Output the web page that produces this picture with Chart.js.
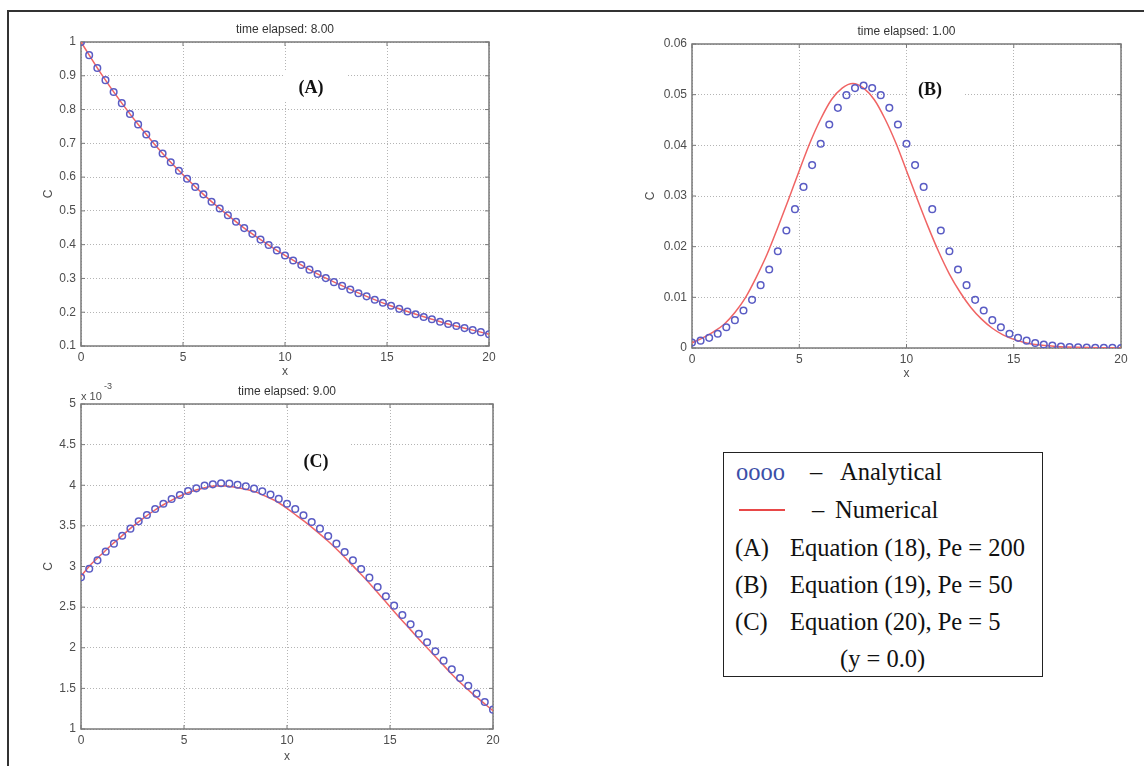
<!DOCTYPE html>
<html>
<head>
<meta charset="utf-8">
<script src="https://cdn.jsdelivr.net/npm/chart.js@4.4.1/dist/chart.umd.min.js"></script>
<style>
  body { margin: 0; background: #fff; width: 1144px; height: 766px; position: relative; overflow: hidden; }
  canvas { position: absolute; }
  .frame { position: absolute; left: 7px; top: 10px; width: 1150px; height: 770px; border-top: 2px solid #333; border-left: 2px solid #333; }
  .legend { position: absolute; left: 723px; top: 452px; width: 318px; height: 223px; border: 1.5px solid #222; }
  .lg { position: absolute; font-family: "Liberation Serif", "Times New Roman", serif; font-size: 24.5px; color: #111; line-height: 28px; white-space: pre; }
</style>
</head>
<body>
<div class="frame"></div>
<canvas id="plotA" width="520" height="385" style="left:0px;top:0px"></canvas>
<canvas id="plotB" width="524" height="390" style="left:620px;top:0px"></canvas>
<canvas id="plotC" width="520" height="396" style="left:0px;top:370px"></canvas>

<div class="legend"></div>
<div class="lg" style="left:736px;top:458px;color:#3c4fa8">oooo</div>
<div class="lg" style="left:810px;top:458px">–</div>
<div class="lg" style="left:840px;top:458px">Analytical</div>
<div style="position:absolute;left:739px;top:509px;width:46px;height:2px;background:#e84848"></div>
<div class="lg" style="left:812px;top:496px">–</div>
<div class="lg" style="left:835px;top:496px">Numerical</div>
<div class="lg" style="left:735px;top:534px">(A)</div>
<div class="lg" style="left:790px;top:534px">Equation (18), Pe = 200</div>
<div class="lg" style="left:735px;top:571px">(B)</div>
<div class="lg" style="left:790px;top:571px">Equation (19), Pe = 50</div>
<div class="lg" style="left:735px;top:608px">(C)</div>
<div class="lg" style="left:790px;top:608px">Equation (20), Pe = 5</div>
<div class="lg" style="left:840px;top:645px">(y = 0.0)</div>

<script>
// x positions of the analytical circles (same in all three panels)
const xAnalytical = [0, 0.4, 0.8, 1.2, 1.6, 2, 2.4, 2.8, 3.2, 3.6, 4, 4.4, 4.8, 5.2, 5.6, 6, 6.4, 6.8, 7.2, 7.6,
  8, 8.4, 8.8, 9.2, 9.6, 10, 10.4, 10.8, 11.2, 11.6, 12, 12.4, 12.8, 13.2, 13.6, 14, 14.4, 14.8, 15.2, 15.6,
  16, 16.4, 16.8, 17.2, 17.6, 18, 18.4, 18.8, 19.2, 19.6, 20];
// x positions of the numerical curves
const xNumA = [0, 1, 2, 3, 4, 5, 6, 7, 8, 9, 10, 11, 12, 13, 14, 15, 16, 17, 18, 19, 20];
const xNum = [0, 0.5, 1, 1.5, 2, 2.5, 3, 3.5, 4, 4.5, 5, 5.5, 6, 6.5, 7, 7.5, 8, 8.5, 9, 9.5,
  10, 10.5, 11, 11.5, 12, 12.5, 13, 13.5, 14, 14.5, 15, 15.5, 16, 16.5, 17, 17.5, 18, 18.5, 19, 19.5, 20];

// (A) time elapsed 8.00
const anaA = [1.000, 0.961, 0.923, 0.887, 0.852, 0.819, 0.787, 0.756, 0.726, 0.698, 0.670, 0.644, 0.619, 0.595,
  0.571, 0.549, 0.527, 0.507, 0.487, 0.468, 0.449, 0.432, 0.415, 0.399, 0.383, 0.368, 0.353, 0.340, 0.326,
  0.313, 0.301, 0.289, 0.278, 0.267, 0.256, 0.247, 0.237, 0.228, 0.219, 0.210, 0.202, 0.194, 0.186, 0.179,
  0.172, 0.165, 0.159, 0.153, 0.147, 0.141, 0.135];
const numA = [1.000, 0.905, 0.819, 0.741, 0.670, 0.607, 0.549, 0.497, 0.449, 0.407, 0.368, 0.333, 0.301,
  0.273, 0.247, 0.223, 0.202, 0.183, 0.165, 0.150, 0.135];

// (B) time elapsed 1.00
const anaB = [0.0011, 0.00145, 0.0020, 0.0028, 0.0041, 0.0055, 0.0074, 0.0095, 0.0124, 0.0155, 0.0191, 0.0232,
  0.0274, 0.0318, 0.0361, 0.0403, 0.0441, 0.0474, 0.0499, 0.0513, 0.0518, 0.0513, 0.0499, 0.0474, 0.0441,
  0.0403, 0.0361, 0.0318, 0.0274, 0.0232, 0.0191, 0.0155, 0.0124, 0.0095, 0.0074, 0.0055, 0.0041, 0.0028,
  0.0020, 0.00145, 0.0010, 0.0007, 0.0005, 0.0003, 0.0002, 0.00013, 0.00008, 0.00005, 0.00003, 0.00002, 0.00001];
const numB = [0.0010, 0.0020, 0.0032, 0.0047, 0.0070, 0.0100, 0.0140, 0.0185, 0.0238, 0.0293, 0.0350, 0.0405,
  0.0452, 0.0490, 0.0513, 0.0522, 0.0513, 0.0490, 0.0452, 0.0405, 0.0350, 0.0294, 0.0240, 0.0190, 0.0146,
  0.0110, 0.0080, 0.0057, 0.0039, 0.0026, 0.0017, 0.0011, 0.0007, 0.0005, 0.0003, 0.0002, 0.00013, 0.00008,
  0.00005, 0.00003, 0.00002];

// (C) time elapsed 9.00, values in units of 1e-3
const anaC = [2.867, 2.973, 3.076, 3.183, 3.281, 3.379, 3.466, 3.556, 3.634, 3.708, 3.773, 3.831, 3.880, 3.929,
  3.962, 3.995, 4.011, 4.024, 4.020, 4.007, 3.987, 3.958, 3.925, 3.885, 3.832, 3.773, 3.708, 3.630, 3.548,
  3.466, 3.375, 3.281, 3.178, 3.076, 2.969, 2.863, 2.748, 2.633, 2.518, 2.403, 2.288, 2.173, 2.067, 1.956,
  1.841, 1.734, 1.628, 1.533, 1.435, 1.332, 1.238];
const numC = [2.88, 3.03, 3.15, 3.27, 3.38, 3.49, 3.59, 3.68, 3.76, 3.83, 3.89, 3.935, 3.97, 3.99, 3.99, 3.975,
  3.95, 3.915, 3.86, 3.80, 3.715, 3.62, 3.525, 3.42, 3.31, 3.19, 3.06, 2.93, 2.795, 2.65, 2.505, 2.36, 2.22,
  2.08, 1.945, 1.81, 1.675, 1.55, 1.435, 1.33, 1.225];

const SANS = "'Liberation Sans', Arial, sans-serif";
const BLUE = "#5a5cc4";
const RED = "#f06464";

function pts(xs, ys) {
  return xs.map((x, i) => ({ x: x, y: ys[i] }));
}

// matlab style labels: 1 not 1.0, 0.5 not 0.50
function tickText(v) {
  return String(+Number(v).toFixed(4));
}

// matlab-like box, inward ticks, title and the (A)/(B)/(C) tags
const panelPlugin = {
  id: "panel",
  beforeDatasetsDraw(chart, args, o) {
    const ctx = chart.ctx;
    const a = chart.chartArea;
    ctx.save();
    if (o.mask) {
      ctx.fillStyle = "#fff";
      ctx.fillRect(o.mask[0], o.mask[1], o.mask[2], o.mask[3]);
    }
    ctx.strokeStyle = "#7a7a7a";
    ctx.lineWidth = 1.5;
    ctx.strokeRect(a.left, a.top, a.right - a.left, a.bottom - a.top);
    ctx.lineWidth = 1;
    const tl = 4;
    chart.scales.x.ticks.forEach((t) => {
      const px = chart.scales.x.getPixelForValue(t.value);
      ctx.beginPath();
      ctx.moveTo(px, a.bottom); ctx.lineTo(px, a.bottom - tl);
      ctx.moveTo(px, a.top); ctx.lineTo(px, a.top + tl);
      ctx.stroke();
    });
    chart.scales.y.ticks.forEach((t) => {
      const py = chart.scales.y.getPixelForValue(t.value);
      ctx.beginPath();
      ctx.moveTo(a.left, py); ctx.lineTo(a.left + tl, py);
      ctx.moveTo(a.right, py); ctx.lineTo(a.right - tl, py);
      ctx.stroke();
    });
    ctx.fillStyle = "#333";
    ctx.font = "12px " + SANS;
    ctx.textAlign = "center";
    ctx.textBaseline = "middle";
    ctx.fillText(o.title, (a.left + a.right) / 2, o.titleY);
    if (o.exponent) {
      ctx.textAlign = "left";
      ctx.textBaseline = "alphabetic";
      ctx.fillStyle = "#4d4d4d";
      ctx.font = "11px " + SANS;
      ctx.fillText("x 10", a.left, a.top - 4);
      ctx.font = "9px " + SANS;
      ctx.fillText("-3", a.left + 23, a.top - 15);
    }
    ctx.restore();
  },
  afterDatasetsDraw(chart, args, o) {
    const ctx = chart.ctx;
    ctx.save();
    ctx.fillStyle = "#111";
    ctx.font = "bold 18px 'Liberation Serif', 'Times New Roman', serif";
    ctx.textAlign = "center";
    ctx.textBaseline = "middle";
    ctx.fillText(o.tag, o.tagX, o.tagY);
    ctx.restore();
  },
};

function makePanel(id, p) {
  return new Chart(document.getElementById(id), {
    type: "scatter",
    data: {
      datasets: [
        {
          label: "Analytical",
          data: pts(xAnalytical, p.ana),
          showLine: false,
          pointStyle: "circle",
          pointRadius: 3.3,
          pointBorderWidth: 1.5,
          pointBorderColor: BLUE,
          pointBackgroundColor: "rgba(0,0,0,0)",
        },
        {
          label: "Numerical",
          data: pts(p.xNum, p.num),
          showLine: true,
          pointRadius: 0,
          borderColor: RED,
          borderWidth: 1.5,
          cubicInterpolationMode: "monotone",
        },
      ],
    },
    plugins: [panelPlugin],
    options: {
      responsive: false,
      animation: false,
      devicePixelRatio: 1,
      layout: { padding: p.pad },
      plugins: {
        legend: { display: false },
        tooltip: { enabled: false },
        panel: p.panel,
      },
      scales: {
        x: {
          type: "linear",
          min: 0,
          max: 20,
          afterFit: (s) => { s.height = p.xh; },
          ticks: { stepSize: 5, color: "#4d4d4d", padding: 4, font: { family: SANS, size: 12 }, callback: tickText },
          grid: { color: "#b4b4b4", lineWidth: 1, drawTicks: false },
          border: { display: false, dash: [1, 2] },
          title: { display: true, text: "x", color: "#4d4d4d", padding: { top: 0, bottom: 0 }, font: { family: SANS, size: 12 } },
        },
        y: {
          type: "linear",
          min: p.ymin,
          max: p.ymax,
          afterFit: (s) => { s.width = p.yw; },
          ticks: { stepSize: p.ystep, color: "#4d4d4d", padding: 5, font: { family: SANS, size: 12 }, callback: tickText },
          grid: { color: "#b4b4b4", lineWidth: 1, drawTicks: false },
          border: { display: false, dash: [1, 2] },
          title: { display: true, text: "C", color: "#4d4d4d", padding: { top: 4, bottom: 0 }, font: { family: SANS, size: 12 } },
        },
      },
    },
  });
}

makePanel("plotA", {
  ana: anaA, xNum: xNumA, num: numA,
  ymin: 0.1, ymax: 1, ystep: 0.1,
  pad: { left: 37, right: 31, top: 42, bottom: 6 },
  yw: 44, xh: 33,
  panel: { title: "time elapsed: 8.00", titleY: 30, tag: "(A)", tagX: 311, tagY: 88, mask: [284, 70, 63, 32] },
});

makePanel("plotB", {
  ana: anaB, xNum: xNum, num: numB,
  ymin: 0, ymax: 0.06, ystep: 0.01,
  pad: { left: 19, right: 23, top: 44, bottom: 9 },
  yw: 53, xh: 33,
  panel: { title: "time elapsed: 1.00", titleY: 32, tag: "(B)", tagX: 310, tagY: 90, mask: [287, 70, 58, 34] },
});

makePanel("plotC", {
  ana: anaC, xNum: xNum, num: numC,
  ymin: 1, ymax: 5, ystep: 0.5,
  pad: { left: 37, right: 27, top: 34, bottom: 2 },
  yw: 44, xh: 35,
  panel: { title: "time elapsed: 9.00", titleY: 22, tag: "(C)", tagX: 316, tagY: 92, mask: [290, 70, 60, 38], exponent: true },
});
</script>
</body>
</html>
